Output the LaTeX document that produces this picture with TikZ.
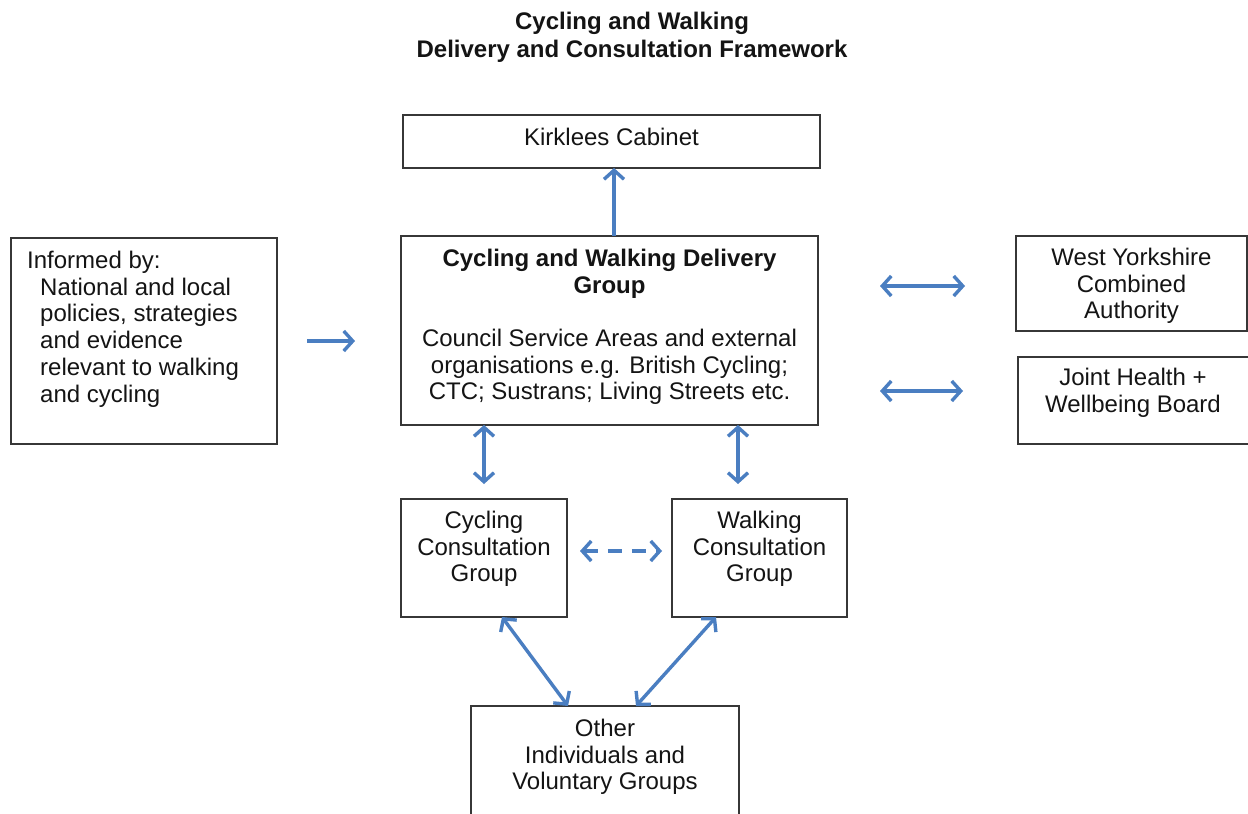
\documentclass[tikz,border=0pt]{standalone}
\usepackage{fontspec}
\setmainfont{Liberation Sans}
\usetikzlibrary{arrows.meta}
\definecolor{arrowblue}{RGB}{74,126,193}
\definecolor{boxgray}{RGB}{55,55,55}
\definecolor{ink}{RGB}{20,20,20}
\begin{document}
\begin{tikzpicture}[x=1pt,y=-1pt,
  box/.style={draw=boxgray,line width=1.8pt,inner sep=0pt,outer sep=0pt,anchor=north west},
  txt/.style={inner sep=0pt,anchor=north,align=center,text=ink,font=\fontsize{24}{26.7}\selectfont},
  ltxt/.style={inner sep=0pt,anchor=north west,align=left,text=ink,font=\fontsize{24}{26.7}\selectfont},
  btxt/.style={txt,font=\fontsize{24}{26.5}\selectfont\bfseries},
  tip/.tip={Straight Barb[length=9pt,width=20pt]},
  arr/.style={draw=arrowblue,line width=3.4pt,-tip},
  dbl/.style={draw=arrowblue,line width=3.4pt,tip-tip},
]
\useasboundingbox[fill=white] (0,0) rectangle (1248,814);

% title
\node[btxt,font=\fontsize{24}{28}\selectfont\bfseries] (title) at (632,12) {Cycling and Walking\\Delivery and Consultation Framework};

% boxes
\node[box,minimum width=417pt,minimum height=53pt] (cab) at (403,115) {};
\node[box,minimum width=266pt,minimum height=206pt] (inf) at (11,238) {};
\node[box,minimum width=417pt,minimum height=189pt] (main) at (401,236) {};
\node[box,minimum width=231pt,minimum height=95pt] (wyca) at (1016,236) {};
\node[box,minimum width=234pt,minimum height=87pt] (jhwb) at (1018,357) {};
\node[box,minimum width=166pt,minimum height=118pt] (cyc) at (401,499) {};
\node[box,minimum width=175pt,minimum height=118pt] (walk) at (672,499) {};
\node[box,minimum width=268pt,minimum height=120pt] (oth) at (471,706) {};

% texts
\node[txt] (cabt) at (611.5,128) {Kirklees Cabinet};
\node[ltxt] (inft1) at (27,251) {Informed by:};
\node[ltxt] (inft2) at (40,277.7) {National and local\\policies, strategies\\and evidence\\relevant to walking\\and cycling};
\node[btxt] (maint1) at (609.5,249) {Cycling and Walking Delivery\\Group};
\node[txt] (maint2) at (609.5,329) {Council Service Areas and external\\organisations e.g. British Cycling;\\CTC; Sustrans; Living Streets etc.};
\node[txt] (wycat) at (1131.5,248) {West Yorkshire\\Combined\\Authority};
\node[txt] (jhwbt) at (1133,368) {Joint Health +\\Wellbeing Board};
\node[txt] (cyct) at (484,511) {Cycling\\Consultation\\Group};
\node[txt] (walkt) at (759.5,511) {Walking\\Consultation\\Group};
\node[txt] (otht) at (605,719) {Other\\Individuals and\\Voluntary Groups};

% connectors
\draw[arr] ([xshift=2.5pt]main.north -| cabt.south) -- ([xshift=2.5pt]cab.south -| cabt.south);
\draw[arr,shorten <=30pt,shorten >=46pt] (inf.east) -- (inf.east -| main.west);
\draw[dbl,shorten <=62pt,shorten >=51pt] ([yshift=-2.5pt]wyca.west -| main.east) -- ([yshift=-2.5pt]wyca.west);
\draw[dbl,shorten <=62pt,shorten >=55pt] ([yshift=9.5pt]jhwb.west -| main.east) -- ([yshift=9.5pt]jhwb.west);
\draw[dbl,shorten >=15pt] (cyc.north |- main.south) -- (cyc.north);
\draw[dbl,shorten >=15pt] ([xshift=-21.5pt]walk.north |- main.south) -- ([xshift=-21.5pt]walk.north);
\draw[dbl,dash pattern=on 14pt off 10pt,shorten <=13pt,shorten >=10pt] ([yshift=7pt]cyc.east) -- ([yshift=7pt]walk.west);
\draw[dbl] ([xshift=18pt]cyc.south) -- ([xshift=-37pt]oth.north);
\draw[dbl] ([xshift=-43.5pt]walk.south) -- ([xshift=31pt]oth.north);
\end{tikzpicture}
\end{document}
